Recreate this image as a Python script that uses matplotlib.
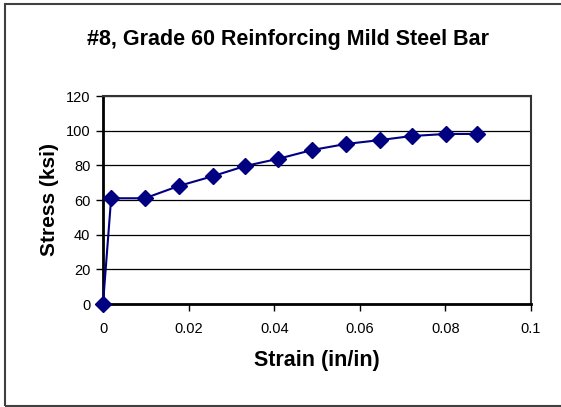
import matplotlib.pyplot as plt
import matplotlib.patches as pl

plt.rcParams['font.family'] = ['Liberation Sans', 'DejaVu Sans']

strain = [0, 0.0019, 0.0098, 0.0177, 0.0256, 0.0332, 0.0410, 0.0488,
          0.0567, 0.0648, 0.0721, 0.0801, 0.0874]
stress = [0, 61.0, 61.0, 68.1, 73.7, 79.6, 83.8, 88.8, 92.3, 94.6,
          96.9, 98.1, 98.1]
xticks = [0, 0.02, 0.04, 0.06, 0.08, 0.1]
xticklabels = ['0', '0.02', '0.04', '0.06', '0.08', '0.1']
yticks = [0, 20, 40, 60, 80, 100, 120]

fig = plt.figure(figsize=(5.61, 4.07), dpi=100)
ax = fig.add_axes([103 / 561, 1 - 304 / 407, 428 / 561, 208 / 407])

# outer chart border (right edge runs off the picture)
border = pl.Rectangle((5 / 561, 1 / 407), 1.05, 1 - 5 / 407,
                      transform=fig.transFigure, fill=False,
                      edgecolor='#404040', linewidth=1.5)
fig.patches.append(border)

ax.plot(strain, stress, color='#000080', linewidth=1.5, marker='D',
        markersize=8, markerfacecolor='#000080', markeredgecolor='#000080',
        clip_on=False, zorder=3)

ax.set_xlim(0, 0.1)
ax.set_ylim(0, 120)
ax.set_xticks(xticks)
ax.set_xticklabels(xticklabels)
ax.set_yticks(yticks)
ax.grid(axis='y', color='black', linewidth=0.9)
ax.set_axisbelow(True)

for side in ['left', 'bottom']:
    ax.spines[side].set_linewidth(2)
    ax.spines[side].set_color('black')
for side in ['top', 'right']:
    ax.spines[side].set_linewidth(1.5)
    ax.spines[side].set_color('#333333')

ax.tick_params(axis='both', labelsize=10.5, length=5, width=1, color='black',
               direction='out')
ax.tick_params(axis='x', pad=8)
ax.tick_params(axis='y', pad=4)

ax.set_xlabel('Strain (in/in)', fontsize=15.5, fontweight='bold', labelpad=10)
ax.set_ylabel('Stress (ksi)', fontsize=15, fontweight='bold', labelpad=5)
fig.text(288 / 561, 1 - 40 / 407, '#8, Grade 60 Reinforcing Mild Steel Bar',
         ha='center', va='center', fontsize=15.5, fontweight='bold')

fig.savefig('out.png', dpi=100)
